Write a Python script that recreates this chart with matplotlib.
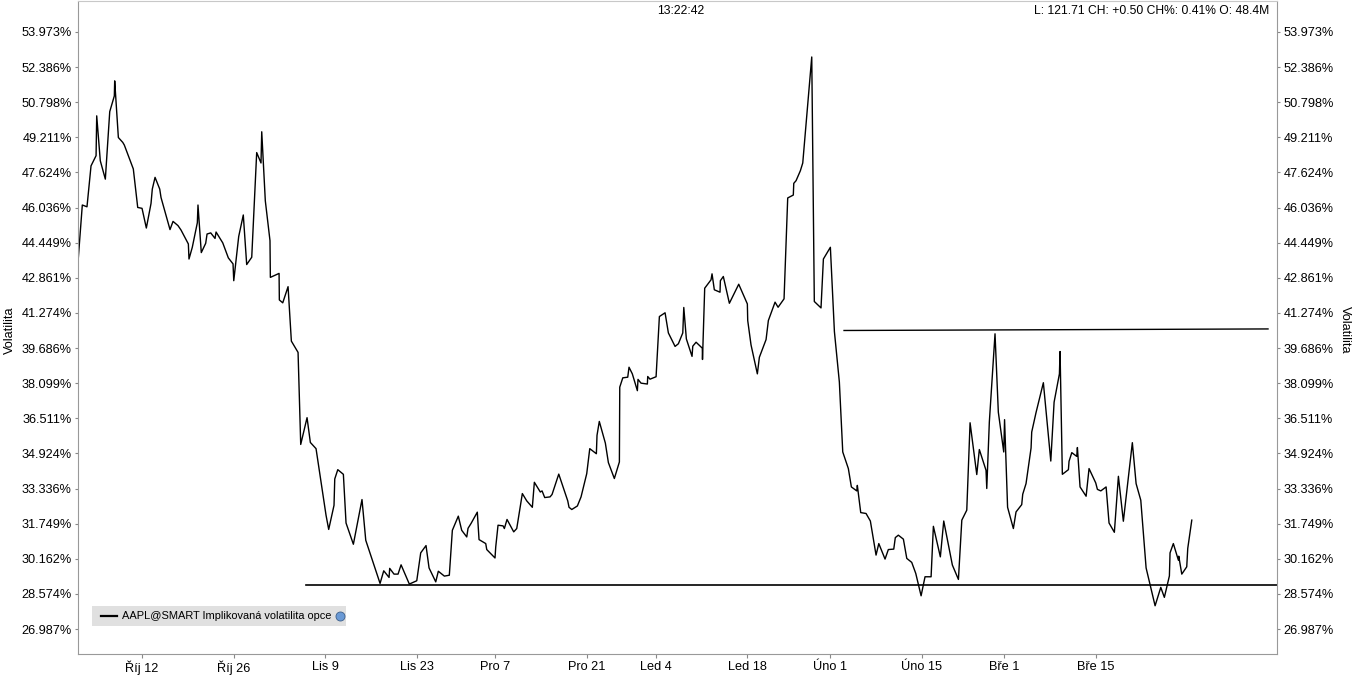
import matplotlib
matplotlib.use("Agg")
import matplotlib.pyplot as plt
from matplotlib.patches import Rectangle
from matplotlib.lines import Line2D

plt.rcParams["font.family"] = ["Liberation Sans", "DejaVu Sans"]

# x axis is in trading days counted from Oct 12 (half sessions count as 0.5)
tick_pos = [0, 10, 20, 30, 38.5, 48.5, 56, 66, 75, 85, 94, 104]
tick_labels = ["Říj 12", "Říj 26", "Lis 9", "Lis 23", "Pro 7", "Pro 21",
               "Led 4", "Led 18", "Úno 1", "Úno 15", "Bře 1", "Bře 15"]

y_ticks = [26.987, 28.574, 30.162, 31.749, 33.336, 34.924, 36.511, 38.099,
           39.686, 41.274, 42.861, 44.449, 46.036, 47.624, 49.211, 50.798,
           52.386, 53.973]

# implied volatility (%)
t = [-6.94, -6.51, -6.00, -5.56, -5.01, -4.94, -4.55, -4.00, -3.52, -3.02,
     -2.98, -2.58, -2.10, -1.93, -0.95, -0.47, 0.00, 0.47, 0.98, 1.12,
     1.42, 1.93, 2.07, 2.58, 3.05, 3.38, 3.92, 4.25, 5.05, 5.12,
     5.48, 6.03, 6.10, 6.46, 6.94, 7.09, 7.49, 7.96, 8.07, 8.80,
     9.41, 9.92, 10.00, 10.54, 11.04, 11.41, 11.96, 12.50, 12.97, 13.05,
     13.44, 13.95, 13.99, 14.94, 14.97, 15.34, 15.92, 16.28, 17.01, 17.30,
     17.99, 18.35, 18.97, 20.06, 20.35, 20.93, 21.01, 21.34, 21.95, 22.24,
     23.04, 23.98, 24.39, 25.95, 26.35, 26.93, 27.00, 27.47, 27.91, 28.24,
     29.14, 29.95, 30.38, 30.96, 31.29, 32.02, 32.30, 32.96, 33.50, 33.83,
     34.48, 34.85, 35.40, 35.54, 35.87, 36.55, 36.74, 37.47, 37.58, 38.48,
     38.56, 38.81, 39.36, 39.50, 39.79, 40.52, 40.85, 41.46, 41.94, 42.55,
     42.77, 43.42, 43.61, 43.90, 44.48, 44.70, 45.43, 45.97, 46.41, 46.55,
     46.85, 47.46, 47.86, 48.48, 48.81, 49.53, 49.60, 49.85, 50.51, 50.84,
     51.49, 52.04, 52.08, 52.41, 52.95, 53.09, 53.45, 54.00, 54.07, 54.40,
     55.09, 55.13, 55.38, 56.04, 56.40, 57.02, 57.38, 58.11, 58.47, 58.95,
     59.06, 59.34, 59.96, 60.04, 60.40, 61.08, 61.10, 61.34, 62.03, 62.14,
     62.39, 63.01, 63.05, 63.37, 64.03, 65.05, 65.99, 66.03, 66.39, 67.08,
     67.30, 68.03, 68.28, 69.01, 69.34, 69.99, 70.39, 71.00, 71.05, 71.30,
     71.77, 72.03, 73.01, 73.29, 74.02, 74.28, 75.04, 75.48, 76.02, 76.39,
     77.00, 77.33, 77.92, 77.98, 78.35, 78.93, 79.40, 80.02, 80.32, 81.00,
     81.36, 81.95, 82.12, 82.45, 83.00, 83.37, 83.91, 84.35, 84.93, 85.36,
     86.02, 86.27, 87.03, 87.40, 88.34, 89.00, 89.37, 89.91, 90.27, 91.00,
     91.28, 92.01, 92.09, 92.37, 92.99, 93.35, 93.94, 94.03, 94.36, 94.99,
     95.28, 95.90, 96.01, 96.37, 96.92, 96.99, 97.46, 98.26, 99.07, 99.43,
     100.01, 100.08, 100.33, 100.99, 101.06, 101.36, 101.90, 101.97, 102.26, 102.92,
     103.24, 103.97, 104.15, 104.52, 105.10, 105.42, 106.00, 106.44, 106.98, 107.96,
     108.37, 108.88, 109.46, 110.44, 111.06, 111.45, 112.00, 112.07, 112.43, 112.98,
     113.02, 113.35, 113.89, 114.00, 114.44]

iv = [43.79, 46.15, 46.07, 47.92, 48.38, 50.18, 48.15, 47.32, 50.37, 51.08,
      51.76, 49.20, 48.98, 48.86, 47.78, 46.04, 46.00, 45.11, 46.22, 46.87,
      47.40, 46.87, 46.49, 45.74, 45.04, 45.41, 45.22, 45.02, 44.39, 43.71,
      44.24, 45.35, 46.15, 44.00, 44.42, 44.84, 44.89, 44.64, 44.93, 44.44,
      43.76, 43.49, 42.73, 44.73, 45.70, 43.46, 43.79, 48.52, 48.05, 49.46,
      46.34, 44.54, 42.88, 43.06, 41.86, 41.73, 42.46, 40.00, 39.49, 35.33,
      36.54, 35.42, 35.14, 32.13, 31.49, 32.58, 33.77, 34.19, 33.98, 31.78,
      30.82, 32.84, 31.00, 29.05, 29.62, 29.32, 29.73, 29.47, 29.47, 29.89,
      29.02, 29.17, 30.43, 30.76, 29.75, 29.12, 29.60, 29.38, 29.42, 31.45,
      32.09, 31.45, 31.15, 31.54, 31.76, 32.27, 31.03, 30.85, 30.58, 30.20,
      30.70, 31.68, 31.65, 31.53, 31.94, 31.38, 31.53, 33.11, 32.78, 32.49,
      33.62, 33.18, 33.23, 32.93, 32.96, 33.07, 33.99, 33.32, 32.78, 32.49,
      32.39, 32.55, 32.96, 34.01, 35.14, 34.91, 35.74, 36.37, 35.39, 34.51,
      33.79, 34.54, 37.92, 38.34, 38.37, 38.82, 38.52, 37.76, 38.27, 38.10,
      38.06, 38.40, 38.28, 38.39, 41.11, 41.28, 40.37, 39.76, 39.88, 40.37,
      41.52, 40.10, 39.31, 39.77, 39.95, 39.68, 39.17, 42.39, 42.77, 43.04,
      42.32, 42.21, 42.73, 42.92, 41.71, 42.57, 41.68, 40.93, 39.83, 38.52,
      39.27, 40.07, 40.93, 41.76, 41.53, 41.91, 46.47, 46.60, 47.13, 47.25,
      47.70, 48.05, 52.84, 41.79, 41.50, 43.71, 44.24, 40.43, 38.15, 34.99,
      34.24, 33.41, 33.23, 33.48, 32.25, 32.21, 31.87, 30.33, 30.85, 30.15,
      30.58, 30.60, 31.12, 31.23, 31.05, 30.18, 30.00, 29.50, 28.49, 29.35,
      29.35, 31.63, 30.25, 31.87, 29.88, 29.23, 31.91, 32.36, 36.31, 33.97,
      35.10, 34.16, 33.34, 36.34, 40.33, 36.79, 34.99, 36.45, 32.49, 31.53,
      32.28, 32.61, 33.08, 33.56, 35.17, 35.89, 36.77, 38.12, 34.58, 37.24,
      38.52, 39.53, 33.98, 34.19, 34.57, 34.96, 34.79, 35.19, 33.41, 32.99,
      34.24, 33.59, 33.30, 33.23, 33.41, 31.78, 31.36, 33.89, 31.86, 35.41,
      33.56, 32.81, 29.75, 28.04, 28.87, 28.42, 29.39, 30.43, 30.85, 30.10,
      30.28, 29.47, 29.80, 30.63, 31.91]

# drawn trend lines (support / resistance)
support_t = [17.88, 123.73]
support_v = [28.96, 28.96]
resist_t = [76.53, 122.75]
resist_v = [40.48, 40.55]

W, H = 1362, 680
fig = plt.figure(figsize=(W / 100, H / 100), dpi=100)
ax = fig.add_axes([78 / W, 1 - 654 / H, 1199 / W, 653 / H])

ax.plot(t, iv, color="black", lw=1.0)
ax.plot(support_t, support_v, color="black", lw=1.2)
ax.plot(resist_t, resist_v, color="black", lw=1.0)

ax.set_xlim(-6.98, 123.73)
ax.set_ylim(25.86, 55.37)

ax.set_xticks(tick_pos)
ax.set_xticklabels(tick_labels)
ax.set_yticks(y_ticks)
ax.set_yticklabels([f"{v:.3f}%" for v in y_ticks])
ax.tick_params(axis="y", which="both", left=True, right=True, labelleft=True,
               labelright=True, length=2, pad=2.5, labelsize=9.2, color="#888888")
ax.tick_params(axis="x", length=3, pad=2, labelsize=9.2, color="#888888")

for side in ["left", "right", "bottom", "top"]:
    ax.spines[side].set_color("#999999")
ax.spines["top"].set_color("#c8c8c8")

# header texts
fig.text(0.5, 1 - 11 / H, "13:22:42", ha="center", va="center", fontsize=8.8)
fig.text(1269 / W, 1 - 11 / H, "L: 121.71 CH: +0.50 CH%: 0.41% O: 48.4M",
         ha="right", va="center", fontsize=8.7)

# axis titles on both sides
fig.text(10 / W, 1 - 330 / H, "Volatilita", rotation=90, ha="center",
         va="center", fontsize=9.2)
fig.text(1345 / W, 1 - 330 / H, "Volatilita", rotation=270, ha="center",
         va="center", fontsize=9.2)

# legend box
fig.add_artist(Rectangle((92 / W, 1 - 626 / H), 254 / W, 20 / H,
                         transform=fig.transFigure, facecolor="#e0e0e0",
                         edgecolor="none"))
fig.add_artist(Line2D([101 / W, 117 / W], [1 - 616 / H, 1 - 616 / H],
                      transform=fig.transFigure, color="black", lw=1.6))
fig.text(122 / W, 1 - 616 / H, "AAPL@SMART Implikovaná volatilita opce",
         ha="left", va="center", fontsize=7.9)
fig.add_artist(Line2D([340 / W], [1 - 616 / H], transform=fig.transFigure,
                      marker="o", ms=6.5, mfc="#6a9ad6", mec="#3d5f8a", mew=0.6))

fig.savefig("out.png", dpi=100)
